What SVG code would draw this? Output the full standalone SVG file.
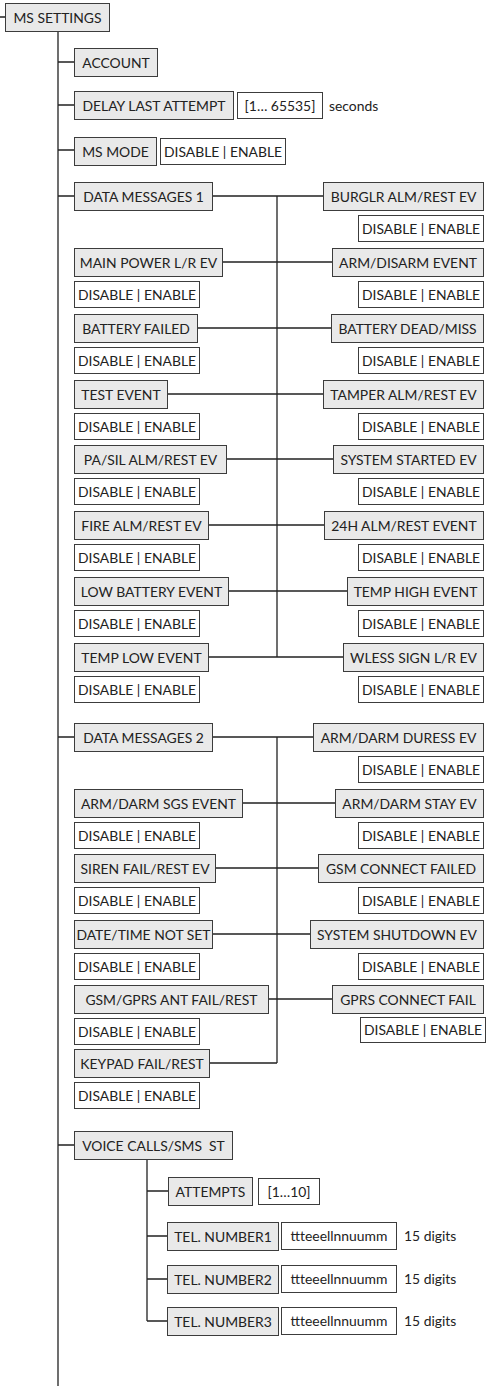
<svg xmlns="http://www.w3.org/2000/svg" width="489" height="1386" viewBox="0 0 489 1386">
<style>
.g{fill:#e9e9e9;stroke:#3c3c3c;stroke-width:1}
.w{fill:#ffffff;stroke:#3c3c3c;stroke-width:1}
.t{font-family:Lato,"Open Sans","DejaVu Sans",sans-serif;font-size:13.9px;fill:#222;text-anchor:middle}
.p{font-family:Lato,"Open Sans","DejaVu Sans",sans-serif;font-size:13.9px;fill:#222}
.c{stroke:#222;stroke-width:1.3;fill:none}
</style>
<rect width="489" height="1386" fill="#fff"/>
<g id="connectors">
<path class="c" d="M0,17H5 M58,31V1386 M58,62H74 M58,105H74 M58,150H74 M58,196H74 M58,737H74 M58,1145H74"/>
<path class="c" d="M277,196V657 M212,196H323 M222,262H332 M197,328H331 M167,394H323 M226,459H333 M208,525H324 M228,591H347 M208,657H343"/>
<path class="c" d="M277,737V1063 M212,737H313 M242,803H335 M215,868H318 M212,934H310 M268,999H332 M209,1063H277"/>
<path class="c" d="M147,1159V1321 M147,1191H168 M147,1236H167 M147,1279H167 M147,1321H167"/>
</g>
<g id="ms-settings"><rect class="g" x="5.5" y="3.5" width="104" height="28"/><text class="t" x="57.5" y="22.5">MS SETTINGS</text></g>
<g id="account"><rect class="g" x="74.5" y="48.5" width="83" height="28"/><text class="t" x="116" y="67.5">ACCOUNT</text></g>
<g id="delay-last-attempt"><rect class="g" x="74.5" y="91.5" width="159" height="28"/><text class="t" x="154" y="110.5">DELAY LAST ATTEMPT</text>
<rect class="w" x="237.5" y="92.5" width="85" height="26"/><text class="t" x="280" y="110.5">[1… 65535]</text><text class="p" x="329" y="110.5">seconds</text></g>
<g id="ms-mode"><rect class="g" x="74.5" y="137.5" width="82" height="28"/><text class="t" x="115.5" y="156.5">MS MODE</text>
<rect class="w" x="160.5" y="138.5" width="125" height="26"/><text class="t" x="223" y="156.5">DISABLE | ENABLE</text></g>

<g id="data-messages-1"><rect class="g" x="74.5" y="182.5" width="138" height="28"/><text class="t" x="143.5" y="201.5">DATA MESSAGES 1</text></g>
<g id="burglr"><rect class="g" x="323.5" y="182.5" width="160" height="28"/><text class="t" x="403.5" y="201.5">BURGLR ALM/REST EV</text>
<rect class="w" x="358.5" y="215.5" width="125" height="26"/><text class="t" x="421" y="233.5">DISABLE | ENABLE</text></g>

<g id="main-power"><rect class="g" x="74.5" y="248.5" width="148" height="28"/><text class="t" x="148.5" y="267.5">MAIN POWER L/R EV</text>
<rect class="w" x="74.5" y="281.5" width="125" height="26"/><text class="t" x="137" y="299.5">DISABLE | ENABLE</text></g>
<g id="arm-disarm"><rect class="g" x="332.5" y="248.5" width="151" height="28"/><text class="t" x="408" y="267.5">ARM/DISARM EVENT</text>
<rect class="w" x="358.5" y="281.5" width="125" height="26"/><text class="t" x="421" y="299.5">DISABLE | ENABLE</text></g>

<g id="battery-failed"><rect class="g" x="74.5" y="314.5" width="123" height="28"/><text class="t" x="136" y="333.5">BATTERY FAILED</text>
<rect class="w" x="74.5" y="347.5" width="125" height="26"/><text class="t" x="137" y="365.5">DISABLE | ENABLE</text></g>
<g id="battery-dead"><rect class="g" x="331.5" y="314.5" width="152" height="28"/><text class="t" x="407.5" y="333.5">BATTERY DEAD/MISS</text>
<rect class="w" x="358.5" y="347.5" width="125" height="26"/><text class="t" x="421" y="365.5">DISABLE | ENABLE</text></g>

<g id="test-event"><rect class="g" x="74.5" y="380.5" width="93" height="28"/><text class="t" x="121" y="399.5">TEST EVENT</text>
<rect class="w" x="74.5" y="413.5" width="125" height="26"/><text class="t" x="137" y="431.5">DISABLE | ENABLE</text></g>
<g id="tamper"><rect class="g" x="323.5" y="380.5" width="160" height="28"/><text class="t" x="403.5" y="399.5">TAMPER ALM/REST EV</text>
<rect class="w" x="358.5" y="413.5" width="125" height="26"/><text class="t" x="421" y="431.5">DISABLE | ENABLE</text></g>

<g id="pa-sil"><rect class="g" x="74.5" y="445.5" width="152" height="28"/><text class="t" x="150.5" y="464.5">PA/SIL ALM/REST EV</text>
<rect class="w" x="74.5" y="478.5" width="125" height="26"/><text class="t" x="137" y="496.5">DISABLE | ENABLE</text></g>
<g id="system-started"><rect class="g" x="333.5" y="445.5" width="150" height="28"/><text class="t" x="408.5" y="464.5">SYSTEM STARTED EV</text>
<rect class="w" x="358.5" y="478.5" width="125" height="26"/><text class="t" x="421" y="496.5">DISABLE | ENABLE</text></g>

<g id="fire-alm"><rect class="g" x="74.5" y="511.5" width="134" height="28"/><text class="t" x="141.5" y="530.5">FIRE ALM/REST EV</text>
<rect class="w" x="74.5" y="544.5" width="125" height="26"/><text class="t" x="137" y="562.5">DISABLE | ENABLE</text></g>
<g id="alm-24h"><rect class="g" x="324.5" y="511.5" width="159" height="28"/><text class="t" x="404" y="530.5">24H ALM/REST EVENT</text>
<rect class="w" x="358.5" y="544.5" width="125" height="26"/><text class="t" x="421" y="562.5">DISABLE | ENABLE</text></g>

<g id="low-battery"><rect class="g" x="74.5" y="577.5" width="154" height="28"/><text class="t" x="151.5" y="596.5">LOW BATTERY EVENT</text>
<rect class="w" x="74.5" y="610.5" width="125" height="26"/><text class="t" x="137" y="628.5">DISABLE | ENABLE</text></g>
<g id="temp-high"><rect class="g" x="347.5" y="577.5" width="136" height="28"/><text class="t" x="415.5" y="596.5">TEMP HIGH EVENT</text>
<rect class="w" x="358.5" y="610.5" width="125" height="26"/><text class="t" x="421" y="628.5">DISABLE | ENABLE</text></g>

<g id="temp-low"><rect class="g" x="74.5" y="643.5" width="134" height="28"/><text class="t" x="141.5" y="662.5">TEMP LOW EVENT</text>
<rect class="w" x="74.5" y="676.5" width="125" height="26"/><text class="t" x="137" y="694.5">DISABLE | ENABLE</text></g>
<g id="wless"><rect class="g" x="343.5" y="643.5" width="140" height="28"/><text class="t" x="413.5" y="662.5">WLESS SIGN L/R EV</text>
<rect class="w" x="358.5" y="676.5" width="125" height="26"/><text class="t" x="421" y="694.5">DISABLE | ENABLE</text></g>

<g id="data-messages-2"><rect class="g" x="74.5" y="723.5" width="138" height="28"/><text class="t" x="143.5" y="742.5">DATA MESSAGES 2</text></g>
<g id="duress"><rect class="g" x="313.5" y="723.5" width="170" height="28"/><text class="t" x="398.5" y="742.5">ARM/DARM DURESS EV</text>
<rect class="w" x="358.5" y="756.5" width="125" height="26"/><text class="t" x="421" y="774.5">DISABLE | ENABLE</text></g>

<g id="sgs-event"><rect class="g" x="74.5" y="789.5" width="168" height="28"/><text class="t" x="158.5" y="808.5">ARM/DARM SGS EVENT</text>
<rect class="w" x="74.5" y="822.5" width="125" height="26"/><text class="t" x="137" y="840.5">DISABLE | ENABLE</text></g>
<g id="stay-ev"><rect class="g" x="335.5" y="789.5" width="148" height="28"/><text class="t" x="409.5" y="808.5">ARM/DARM STAY EV</text>
<rect class="w" x="358.5" y="822.5" width="125" height="26"/><text class="t" x="421" y="840.5">DISABLE | ENABLE</text></g>

<g id="siren-fail"><rect class="g" x="74.5" y="854.5" width="141" height="28"/><text class="t" x="145" y="873.5">SIREN FAIL/REST EV</text>
<rect class="w" x="74.5" y="887.5" width="125" height="26"/><text class="t" x="137" y="905.5">DISABLE | ENABLE</text></g>
<g id="gsm-connect-failed"><rect class="g" x="318.5" y="854.5" width="165" height="28"/><text class="t" x="401" y="873.5">GSM CONNECT FAILED</text>
<rect class="w" x="358.5" y="887.5" width="125" height="26"/><text class="t" x="421" y="905.5">DISABLE | ENABLE</text></g>

<g id="date-time"><rect class="g" x="74.5" y="920.5" width="138" height="28"/><text class="t" x="143.5" y="939.5">DATE/TIME NOT SET</text>
<rect class="w" x="74.5" y="953.5" width="125" height="26"/><text class="t" x="137" y="971.5">DISABLE | ENABLE</text></g>
<g id="system-shutdown"><rect class="g" x="310.5" y="920.5" width="173" height="28"/><text class="t" x="397" y="939.5">SYSTEM SHUTDOWN EV</text>
<rect class="w" x="358.5" y="953.5" width="125" height="26"/><text class="t" x="421" y="971.5">DISABLE | ENABLE</text></g>

<g id="gsm-gprs-ant"><rect class="g" x="74.5" y="985.5" width="194" height="28"/><text class="t" x="171.5" y="1004.5">GSM/GPRS ANT FAIL/REST</text>
<rect class="w" x="74.5" y="1018.5" width="125" height="26"/><text class="t" x="137" y="1036.5">DISABLE | ENABLE</text></g>
<g id="gprs-connect-fail"><rect class="g" x="332.5" y="985.5" width="151" height="28"/><text class="t" x="408" y="1004.5">GPRS CONNECT FAIL</text>
<rect class="w" x="360.5" y="1017.5" width="125" height="25"/><text class="t" x="423" y="1035">DISABLE | ENABLE</text></g>

<g id="keypad-fail"><rect class="g" x="74.5" y="1049.5" width="135" height="28"/><text class="t" x="142" y="1068.5">KEYPAD FAIL/REST</text>
<rect class="w" x="74.5" y="1082.5" width="125" height="26"/><text class="t" x="137" y="1100.5">DISABLE | ENABLE</text></g>

<g id="voice-calls"><rect class="g" x="74.5" y="1131.5" width="158" height="28"/><text class="t" x="153.5" y="1150.5" xml:space="preserve">VOICE CALLS/SMS  ST</text></g>
<g id="attempts"><rect class="g" x="168.5" y="1177.5" width="84" height="28"/><text class="t" x="210.5" y="1196.5">ATTEMPTS</text>
<rect class="w" x="258.5" y="1178.5" width="61" height="26"/><text class="t" x="289" y="1196.5">[1…10]</text></g>
<g id="tel-number1"><rect class="g" x="167.5" y="1222.5" width="111" height="28"/><text class="t" x="223" y="1241.5">TEL. NUMBER1</text>
<rect class="w" x="281.5" y="1222.5" width="115" height="27"/><text class="t" x="339" y="1240.5">ttteeellnnuumm</text><text class="p" x="404" y="1240.5">15 digits</text></g>
<g id="tel-number2"><rect class="g" x="167.5" y="1265.5" width="111" height="28"/><text class="t" x="223" y="1284.5">TEL. NUMBER2</text>
<rect class="w" x="281.5" y="1265.5" width="115" height="27"/><text class="t" x="339" y="1283.5">ttteeellnnuumm</text><text class="p" x="404" y="1283.5">15 digits</text></g>
<g id="tel-number3"><rect class="g" x="167.5" y="1307.5" width="111" height="28"/><text class="t" x="223" y="1326.5">TEL. NUMBER3</text>
<rect class="w" x="281.5" y="1307.5" width="115" height="27"/><text class="t" x="339" y="1325.5">ttteeellnnuumm</text><text class="p" x="404" y="1325.5">15 digits</text></g>
</svg>
